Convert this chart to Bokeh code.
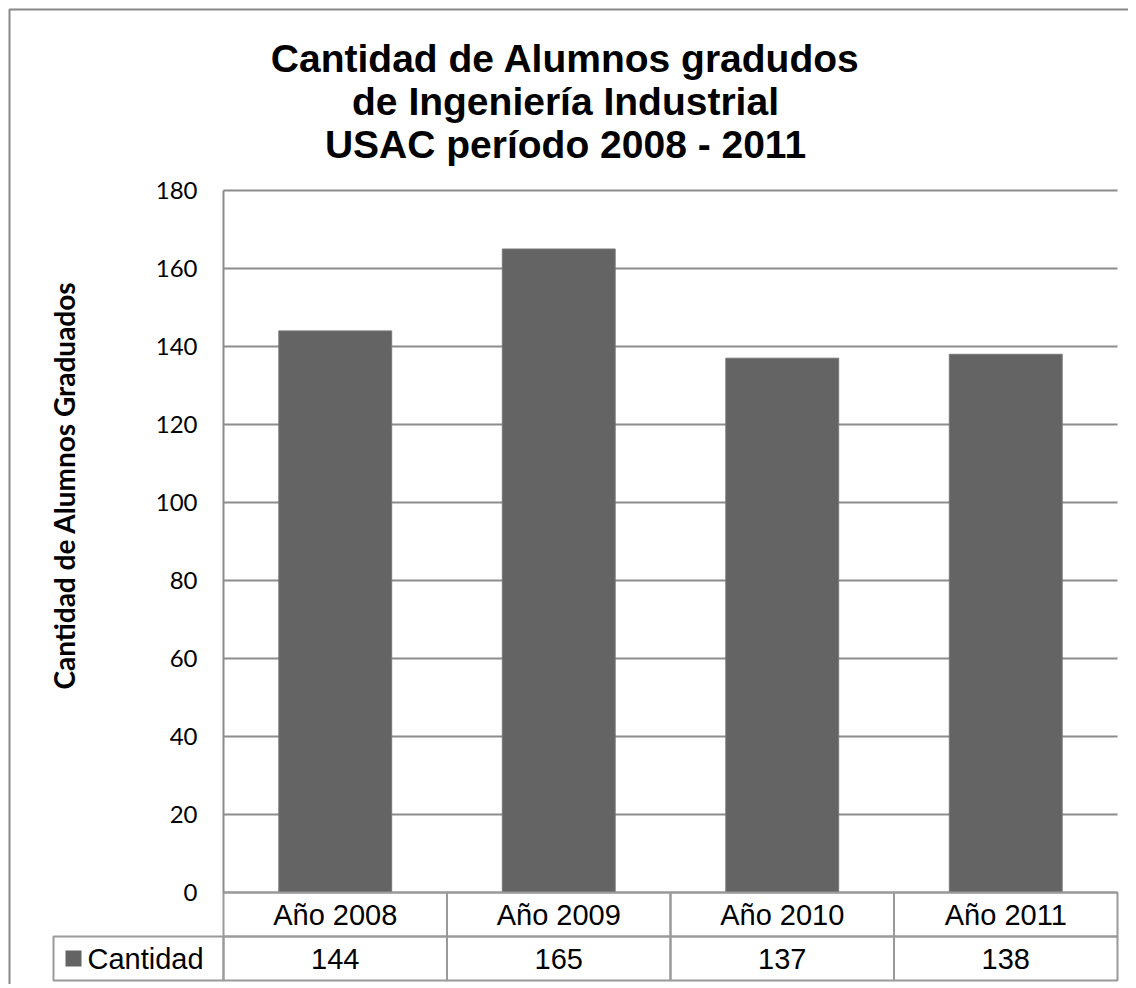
import numpy as np
from bokeh.plotting import figure
from bokeh.models import Range1d, FixedTicker, Grid
from bokeh.core.properties import value
from bokeh.embed import file_html
from bokeh.resources import INLINE

# ---- data ----
years = ["Año 2008", "Año 2009", "Año 2010", "Año 2011"]
cantidad = [144, 165, 137, 138]
series_name = "Cantidad"
title_lines = ["Cantidad de Alumnos gradudos", "de Ingeniería Industrial", "USAC período 2008 - 2011"]
y_title = "Cantidad de Alumnos Graduados"
y_ticks = [0, 20, 40, 60, 80, 100, 120, 140, 160, 180]

# ---- layout (pixel coordinates on the canvas) ----
W, H = 1128, 984
AX_L, AX_R = 223, 1117      # plot area left / right
Y0_PX, YTOP_PX = 892, 190   # pixel rows of 0 and 180
YMAX = 180
ppu_y = (Y0_PX - YTOP_PX) / YMAX
ppu_x = (AX_R - AX_L) / len(years)

def ux(px):
    return (px - AX_L) / ppu_x

def vy(py):
    return (Y0_PX - py) / ppu_y

GRAY_LINE = "#8c8c8c"
TABLE_LINE = "#9a9a9a"
BAR = "#646464"

p = figure(width=W, height=H, output_backend="svg", toolbar_location=None,
           x_range=Range1d(ux(0), ux(W)), y_range=Range1d(vy(H), vy(0)),
           min_border=0)
p.outline_line_color = None
p.xaxis.visible = False
p.xgrid.visible = False

ya = p.yaxis[0]
ya.fixed_location = 0
ya.ticker = FixedTicker(ticks=y_ticks)
ya.bounds = (0, YMAX)
ya.axis_line_color = GRAY_LINE
ya.axis_line_width = 2
ya.major_tick_out = 0
ya.major_tick_in = 0
ya.minor_tick_out = 0
ya.minor_tick_in = 0
ya.major_label_standoff = 26
ya.major_label_text_font = "Lato"
ya.major_label_text_font_size = "24px"
ya.major_label_text_color = "#000000"

yg = p.ygrid[0]
yg.ticker = FixedTicker(ticks=y_ticks)
yg.bounds = (0, YMAX)
yg.grid_line_color = GRAY_LINE
yg.grid_line_width = 2
if "cross_bounds" in Grid.properties():
    yg.cross_bounds = (0, len(years))
else:
    yg.visible = False
    p.segment(x0=0, x1=len(years), y0=y_ticks, y1=y_ticks,
              line_color=GRAY_LINE, line_width=2)

xc = np.arange(len(years)) + 0.5
p.vbar(x=xc, top=cantidad, width=0.505, fill_color=BAR,
       line_color="#777777", line_width=1)

# ---- data table under the plot ----
r1_top, r1_bot, r2_bot = 0, vy(Y0_PX + 44), vy(Y0_PX + 88)
p.quad(left=xc - 0.5, right=xc + 0.5, top=r1_top, bottom=r1_bot,
       fill_color=None, line_color=TABLE_LINE, line_width=2)
p.quad(left=list(xc - 0.5) + [ux(53)], right=list(xc + 0.5) + [0],
       top=r1_bot, bottom=r2_bot,
       fill_color=None, line_color=TABLE_LINE, line_width=2)
p.text(x=xc, y=(r1_top + r1_bot) / 2, text=years,
       text_font=value("Liberation Sans"), text_font_size="29px",
       text_align="center", text_baseline="middle", text_color="#000000")
p.text(x=xc, y=(r1_bot + r2_bot) / 2, text=[str(v) for v in cantidad],
       text_font=value("Liberation Sans"), text_font_size="29px",
       text_align="center", text_baseline="middle", text_color="#000000")

# legend key in the table
p.quad(left=ux(65), right=ux(81), top=vy(Y0_PX + 58), bottom=vy(Y0_PX + 74),
       fill_color=BAR, line_color=None)
p.text(x=ux(87), y=(r1_bot + r2_bot) / 2, text=[series_name],
       text_font=value("Liberation Sans"), text_font_size="29px",
       text_align="left", text_baseline="middle", text_color="#000000")

# title
p.text(x=ux(565), y=[vy(58 + 43 * i) for i in range(len(title_lines))],
       text=title_lines, text_font=value("Liberation Sans"),
       text_font_style="bold", text_font_size="39px", text_align="center",
       text_baseline="alphabetic", text_color="#000000")

# y-axis title
p.text(x=ux(63), y=vy(485), text=[y_title], angle=np.pi / 2,
       text_font=value("Lato"), text_font_style="bold", text_font_size="28px",
       text_align="center", text_baseline="middle", text_color="#000000")

# outer chart border
p.quad(left=ux(9), right=ux(W + 50), top=vy(9), bottom=vy(H + 50),
       fill_color=None, line_color="#888888", line_width=2)

open("out.html", "w").write(file_html(p, INLINE))
